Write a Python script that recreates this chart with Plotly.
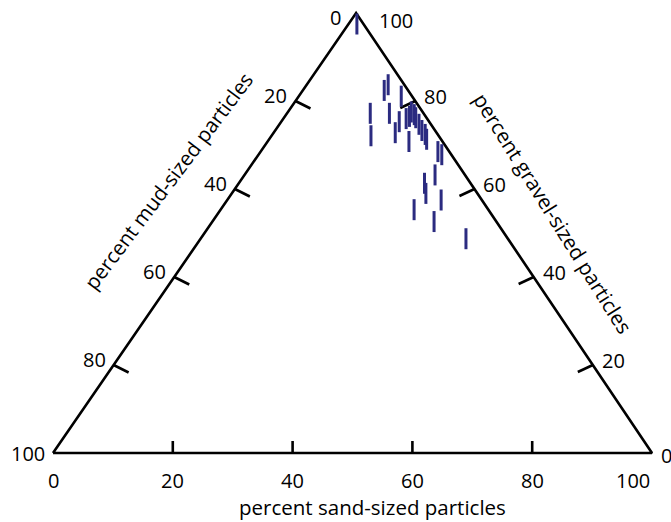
import plotly.graph_objects as go

# ---- data (percent) ----
sand = [1.4, 13.6, 13.6, 17.1, 13.9, 17.1, 16.6, 20.3, 19.7, 20.5, 20.8, 20.6, 21.4, 22.0,
        23.6, 23.3, 24.5, 25.5, 26.3, 29.6, 30.6, 31.8, 31.0, 32.4, 35.7, 32.3, 37.0, 44.3]
mud = [1.1, 4.0, 2.7, 1.8, 8.9, 5.7, 11.3, 6.9, 5.0, 3.5, 2.7, 1.9, 1.7, 1.8,
       5.6, 2.0, 2.2, 2.1, 2.4, 1.9, 1.6, 5.0, 7.7, 8.6, 6.8, 12.4, 10.4, 7.0]
gravel = [97.5, 82.4, 83.7, 81.1, 77.2, 77.2, 72.1, 72.8, 75.3, 76.0, 76.5, 77.5, 76.9, 76.2,
          70.8, 74.7, 73.3, 72.4, 71.3, 68.5, 67.8, 63.2, 61.3, 59.0, 57.5, 55.3, 52.6, 48.7]

tick_vals = [0, 20, 40, 60, 80, 100]
inner_ticks = [20, 40, 60, 80]

APEX = 0.506  # horizontal position of the gravel apex (fraction of base)
W_PX, H_PX = 5.99, 4.4  # px per unit (x, y) for tick offsets


def to_xy(s, m, g):
    tot = s + m + g
    s, g = 100 * s / tot, 100 * g / tot
    return s + APEX * g, g


FONT = "Open Sans"
FS = 20
INK = "black"

fig = go.Figure()

# triangle outline
corners = [(0, 100, 0), (100, 0, 0), (0, 0, 100), (0, 100, 0)]
cx, cy = zip(*[to_xy(*c) for c in corners])
fig.add_trace(go.Scatter(x=cx, y=cy, mode="lines", line=dict(color=INK, width=2.6),
                         hoverinfo="skip", showlegend=False))

# ticks
tx, ty = [], []
for v in inner_ticks:
    x0, y0 = to_xy(v, 100 - v, 0)
    tx += [x0, x0, None]; ty += [y0, y0 + 12 / H_PX, None]
    x0, y0 = to_xy(0, v, 100 - v)
    tx += [x0, x0 + 15 / W_PX, None]; ty += [y0, y0 - 7.5 / H_PX, None]
    x0, y0 = to_xy(100 - v, 0, v)
    tx += [x0, x0 - 15 / W_PX, None]; ty += [y0, y0 - 7 / H_PX, None]
fig.add_trace(go.Scatter(x=tx, y=ty, mode="lines", line=dict(color=INK, width=2.6),
                         hoverinfo="skip", showlegend=False))

# data
px, py = zip(*[to_xy(s, m, g) for s, m, g in zip(sand, mud, gravel)])
fig.add_trace(go.Scatter(x=px, y=py, mode="markers", showlegend=False,
                         marker=dict(symbol="line-ns", size=15,
                                     line=dict(color="#2b2b80", width=3))))

ann = []
for v in tick_vals:
    x0, y0 = to_xy(v, 100 - v, 0)
    ann.append(dict(x=x0, y=y0, text=str(v), showarrow=False, xanchor="center", yanchor="middle",
                    yshift=-27, xshift=(-19 if v == 100 else 0)))
    x0, y0 = to_xy(0, v, 100 - v)
    ann.append(dict(x=x0, y=y0, text=str(v), showarrow=False, xanchor="right", yanchor="middle",
                    xshift=(-13 if v == 0 else -6), yshift=(6 if 0 < v < 100 else (-4 if v == 0 else 0))))
    x0, y0 = to_xy(100 - v, 0, v)
    ann.append(dict(x=x0, y=y0, text=str(v), showarrow=False, xanchor="left", yanchor="middle",
                    xshift=(21 if v == 100 else 7), yshift=(5 if 0 < v < 100 else (-7 if v == 100 else -2))))

ann.append(dict(x=372 / 671, y=1 - 507 / 522, xref="paper", yref="paper", xanchor="center", yanchor="middle",
                text="percent sand-sized particles", showarrow=False, font=dict(size=20.5)))
ann.append(dict(x=168 / 671, y=1 - 181 / 522, xref="paper", yref="paper", textangle=-53,
                xanchor="center", yanchor="middle", font=dict(size=20.5),
                text="percent mud-sized particles", showarrow=False))
ann.append(dict(x=553 / 671, y=1 - 213 / 522, xref="paper", yref="paper", textangle=58,
                xanchor="center", yanchor="middle", font=dict(size=20.5),
                text="percent gravel-sized particles", showarrow=False))

fig.update_layout(
    width=671, height=522,
    margin=dict(l=0, r=0, t=0, b=0),
    paper_bgcolor="white", plot_bgcolor="white",
    font=dict(family=FONT, size=FS, color=INK),
    xaxis=dict(range=[-53 / W_PX, (671 - 53) / W_PX], visible=False, fixedrange=True),
    yaxis=dict(range=[(453 - 522) / H_PX, 453 / H_PX], visible=False, fixedrange=True),
    annotations=ann,
    showlegend=False,
)

fig.write_html("out.html", config={"displayModeBar": False},
               post_script="document.body.style.margin='0';")
